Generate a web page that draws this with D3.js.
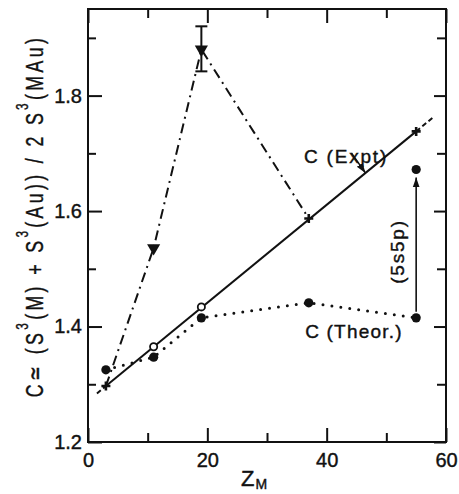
<!DOCTYPE html>
<html>
<head>
<meta charset="utf-8">
<script src="https://cdn.jsdelivr.net/npm/d3@7"></script>
<style>
  body { margin: 0; background: #fff; }
  svg { display: block; font-family: "Liberation Sans", Arial, sans-serif; }
</style>
</head>
<body>
<div id="chart"></div>
<script>
// ---- data ----
const exptZ = [3, 37, 55];            // C (Expt) crosses
const exptC = [1.297, 1.587, 1.738];
const exptEndZ = [1.5, 57.8];          // dashed ends of the fitted line
const exptEndC = [1.284, 1.762];
const openZ = [11, 19];                // open circles on the Expt line
const openC = [1.365, 1.434];
const triZ = [3, 11, 19, 37];          // dash-dot curve
const triC = [1.297, 1.536, 1.880, 1.587];
const triMarkZ = [11, 19];
const triMarkC = [1.536, 1.880];
const errZ = [19];                     // error bar on the peak
const errLo = [1.842];
const errHi = [1.920];
const theorZ = [3, 11, 19, 37, 55];    // C (Theor.) dotted
const theorC = [1.325, 1.347, 1.415, 1.441, 1.415];
const s5pZ = [55];                     // (5s5p) point
const s5pC = [1.672];
const xMajor = [0, 20, 40, 60];
const xMinor = [10, 30, 50];
const yMajor = [1.2, 1.4, 1.6, 1.8];
const yMinor = [1.3, 1.5, 1.7, 1.9];

// ---- layout ----
const width = 459, height = 494;
const [mt, mr, mb, ml] = [9, 13, 52, 88];
const x = d3.scaleLinear().domain([0, 60]).range([ml, width - mr]);
const y = d3.scaleLinear().domain([1.2, 1.95]).range([height - mb, mt]);
const ink = "#111";

const svg = d3.select("#chart").append("svg")
  .attr("width", width).attr("height", height);

const defs = svg.append("defs");
defs.append("marker").attr("id", "head")
  .attr("viewBox", "0 0 10 10").attr("refX", 10).attr("refY", 5)
  .attr("markerWidth", 10).attr("markerHeight", 10)
  .attr("markerUnits", "userSpaceOnUse").attr("orient", "auto")
  .append("path").attr("d", "M0,1.5L10,5L0,8.5Z").attr("fill", ink);

// axes (ticks pointing inward)
const styleAxis = g => {
  g.select(".domain").remove();
  g.selectAll(".tick line").attr("stroke", ink).attr("stroke-width", 2);
  g.selectAll("text").attr("fill", ink).attr("font-size", 20)
    .attr("stroke", ink).attr("stroke-width", 0.4);
};
svg.append("g").attr("transform", `translate(0,${y(1.2)})`)
  .call(d3.axisBottom(x).tickValues(xMajor).tickSize(-14).tickPadding(11).tickFormat(d3.format("d")))
  .call(styleAxis);
svg.append("g").attr("transform", `translate(0,${y(1.2)})`)
  .call(d3.axisBottom(x).tickValues(xMinor).tickSize(-9).tickFormat(""))
  .call(styleAxis);
svg.append("g").attr("transform", `translate(0,${mt})`)
  .call(d3.axisTop(x).tickValues(xMajor).tickSize(-14).tickFormat(""))
  .call(styleAxis);
svg.append("g").attr("transform", `translate(0,${mt})`)
  .call(d3.axisTop(x).tickValues(xMinor).tickSize(-9).tickFormat(""))
  .call(styleAxis);
svg.append("g").attr("transform", `translate(${ml},0)`)
  .call(d3.axisLeft(y).tickValues(yMajor).tickSize(-14).tickPadding(6).tickFormat(d3.format(".1f")))
  .call(styleAxis);
svg.append("g").attr("transform", `translate(${ml},0)`)
  .call(d3.axisLeft(y).tickValues(yMinor).tickSize(-8).tickFormat(""))
  .call(styleAxis);
svg.append("g").attr("transform", `translate(${width - mr},0)`)
  .call(d3.axisRight(y).tickValues(yMajor).tickSize(-12).tickFormat(""))
  .call(styleAxis);
svg.append("g").attr("transform", `translate(${width - mr},0)`)
  .call(d3.axisRight(y).tickValues(yMinor).tickSize(-9).tickFormat(""))
  .call(styleAxis);

// frame
svg.append("rect")
  .attr("x", x(0)).attr("y", y(1.95))
  .attr("width", x(60) - x(0)).attr("height", y(1.2) - y(1.95))
  .attr("fill", "none").attr("stroke", ink).attr("stroke-width", 2);

const line = d3.line().x(d => x(d[0])).y(d => y(d[1]));
const zip = (a, b) => a.map((v, i) => [v, b[i]]);

// C (Expt) straight line, dashed past the end points
svg.append("path").datum(zip(exptZ, exptC).filter((d, i) => i === 0 || i === exptZ.length - 1))
  .attr("d", line).attr("fill", "none").attr("stroke", ink).attr("stroke-width", 2);
svg.append("path").datum([[exptEndZ[0], exptEndC[0]], [exptZ[0], exptC[0]]])
  .attr("d", line).attr("fill", "none").attr("stroke", ink).attr("stroke-width", 2)
  .attr("stroke-dasharray", "5,3");
svg.append("path").datum([[exptZ[2], exptC[2]], [exptEndZ[1], exptEndC[1]]])
  .attr("d", line).attr("fill", "none").attr("stroke", ink).attr("stroke-width", 2)
  .attr("stroke-dasharray", "5,3");

// dash-dot curve
svg.append("path").datum(zip(triZ, triC))
  .attr("d", line).attr("fill", "none").attr("stroke", ink).attr("stroke-width", 2)
  .attr("stroke-dasharray", "10,5,2,5");

// dotted theory curve
svg.append("path").datum(zip(theorZ, theorC))
  .attr("d", line).attr("fill", "none").attr("stroke", ink).attr("stroke-width", 3)
  .attr("stroke-linecap", "round").attr("stroke-dasharray", "0,9");

// error bar
errZ.forEach((z, i) => {
  const g = svg.append("g").attr("stroke", ink).attr("stroke-width", 2);
  g.append("line").attr("x1", x(z)).attr("x2", x(z)).attr("y1", y(errLo[i])).attr("y2", y(errHi[i]));
  [errLo[i], errHi[i]].forEach(v => g.append("line")
    .attr("x1", x(z) - 6).attr("x2", x(z) + 6).attr("y1", y(v)).attr("y2", y(v)));
});

// triangles
svg.selectAll(".tri").data(zip(triMarkZ, triMarkC)).join("path")
  .attr("transform", d => `translate(${x(d[0])},${y(d[1])}) rotate(180)`)
  .attr("d", d3.symbol(d3.symbolTriangle, 75)).attr("fill", ink);

// crosses on Expt line
svg.selectAll(".cross").data(zip(exptZ, exptC)).join("path")
  .attr("transform", d => `translate(${x(d[0])},${y(d[1])})`)
  .attr("d", "M-4.5,0H4.5M0,-4.5V4.5").attr("stroke", ink).attr("stroke-width", 2.6);

// open circles
svg.selectAll(".open").data(zip(openZ, openC)).join("circle")
  .attr("cx", d => x(d[0])).attr("cy", d => y(d[1])).attr("r", 3.6)
  .attr("fill", "#fff").attr("stroke", ink).attr("stroke-width", 1.8);

// filled theory circles and 5s5p point
svg.selectAll(".theor").data(zip(theorZ, theorC).concat(zip(s5pZ, s5pC))).join("circle")
  .attr("cx", d => x(d[0])).attr("cy", d => y(d[1])).attr("r", 4.6).attr("fill", ink);

// arrow from theory point up to 5s5p
svg.append("line")
  .attr("x1", x(s5pZ[0])).attr("x2", x(s5pZ[0]))
  .attr("y1", y(theorC[4]) - 6).attr("y2", y(s5pC[0]) + 8)
  .attr("stroke", ink).attr("stroke-width", 1.6).attr("marker-end", "url(#head)");

// pointer to the Expt line
const tipZ = 46.5, tipC = exptC[0] + (tipZ - exptZ[0]) * (exptC[2] - exptC[0]) / (exptZ[2] - exptZ[0]);
svg.append("line")
  .attr("x1", x(tipZ) - 14).attr("y1", y(tipC) - 20)
  .attr("x2", x(tipZ)).attr("y2", y(tipC))
  .attr("stroke", ink).attr("stroke-width", 1.4).attr("marker-end", "url(#head)");

// labels
const lab = sel => sel.attr("font-size", 19).attr("letter-spacing", 1.8)
  .attr("fill", ink).attr("stroke", ink).attr("stroke-width", 0.4);
svg.append("text").attr("x", x(36.2)).attr("y", y(1.683)).call(lab).text("C (Expt)");
svg.append("text").attr("x", x(36.4)).attr("y", y(1.380)).call(lab).attr("letter-spacing", 1.2).text("C (Theor.)");
svg.append("text")
  .attr("transform", `translate(${x(51.8)},${y(1.53)}) rotate(-90)`)
  .attr("text-anchor", "middle").attr("dominant-baseline", "central")
  .call(lab).text("(5s5p)");

// x label
const xl = svg.append("text").attr("x", 241).attr("y", 486).attr("fill", ink)
  .attr("font-size", 22).attr("stroke", ink).attr("stroke-width", 0.4);
xl.append("tspan").text("Z");
xl.append("tspan").attr("font-size", 14).attr("dy", 3).attr("dx", 1).text("M");

// y label with superscripts: condensed glyphs, wide spacing
const yl = svg.append("text").attr("fill", ink).attr("font-size", 24)
  .attr("stroke", ink).attr("stroke-width", 0.4).attr("text-anchor", "middle");
const parts = [["C\u2243 (S", 0], ["3", 1], ["(M) + S", 0], ["3", 1], ["(Au)) / 2 S", 0], ["3", 1], ["(MAu)", 0]];
let up = false;
parts.forEach(([t, sup]) => {
  const ts = yl.append("tspan").text(t);
  if (sup) { ts.attr("font-size", 16).attr("dy", -15); up = true; }
  else if (up) { ts.attr("dy", 15); up = false; }
});
const squeeze = 0.74, target = 362;
const nChars = parts.map(p => p[0]).join("").length;
const len0 = yl.node().getComputedTextLength();
yl.attr("letter-spacing", Math.max(0, (target / squeeze - len0) / nChars));
const len1 = yl.node().getComputedTextLength();
yl.attr("transform", `translate(43,216) rotate(-90) scale(${target / len1},1)`);
</script>
</body>
</html>
